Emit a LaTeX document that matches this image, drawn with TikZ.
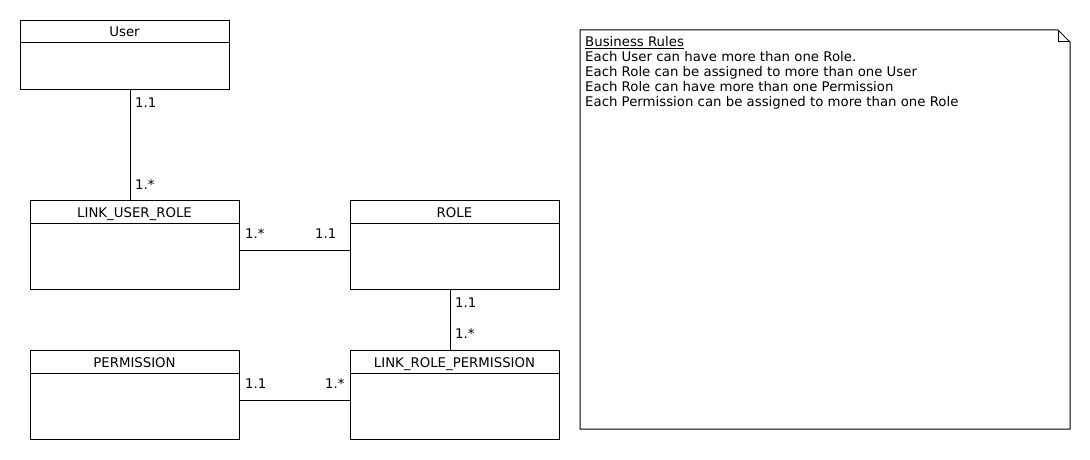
\documentclass[tikz,border=0pt]{standalone}
\usepackage{fontspec}
\setmainfont{DejaVu Sans}
\begin{document}
\begin{tikzpicture}[x=1pt,y=-1pt,
  boxline/.style={draw=black,line width=1pt},
  ttl/.style={font=\fontsize{13.3}{15}\selectfont,inner sep=0pt,anchor=base},
  mult/.style={font=\fontsize{13.3}{15}\selectfont,inner sep=0pt,anchor=base west},
  conn/.style={draw=black,line width=1pt}]
\useasboundingbox (0,0) rectangle (1090,460);
\fill[white] (0,0) rectangle (1090,460);
% classes
\newcommand{\umlclass}[5]{%
  \node[boxline,minimum width=209pt,minimum height=#5pt,inner sep=0pt,anchor=north west] (#1) at (#2,#3) {};
  \draw[line width=1pt] (#2,#3+23) -- (#2+209,#3+23);
  \node[ttl] (#1t) at (#2+104.5,#3+17) {#4};}
\umlclass{user}{20}{20}{User}{69}
\umlclass{lur}{30}{200}{LINK\_USER\_ROLE}{89}
\umlclass{role}{350}{200}{ROLE}{89}
\umlclass{perm}{30}{350}{PERMISSION}{89}
\umlclass{lrp}{350}{350}{LINK\_ROLE\_PERMISSION}{89}
% connectors
\draw[conn] (user.south -| 130,0) -- (lur.north -| 130,0);
\draw[conn] (lur.east |- 0,250) -- (role.west |- 0,250);
\draw[conn] (role.south -| 450,0) -- (lrp.north -| 450,0);
\draw[conn] (perm.east |- 0,400) -- (lrp.west |- 0,400);
% multiplicities
\node[mult] (m1) at (135,107) {1.1};
\node[mult] (m2) at (135,189) {1.*};
\node[mult] (m3) at (245,238) {1.*};
\node[mult] (m4) at (315,238) {1.1};
\node[mult] (m5) at (455,307) {1.1};
\node[mult] (m6) at (455,338) {1.*};
\node[mult] (m7) at (245,388) {1.1};
\node[mult] (m8) at (325,388) {1.*};
% note
\draw[line width=1pt] (580,30) -- (1058,30) -- (1070,42) -- (1070,429) -- (580,429) -- cycle;
\draw[line width=1pt] (1058,30) -- (1058,42) -- (1070,42);
\node[anchor=north west,inner sep=0pt,align=left,font=\fontsize{13.3}{15}\selectfont] (note) at (585,36)
{\underline{Business Rules}\\
Each User can have more than one Role.\\
Each Role can be assigned to more than one User\\
Each Role can have more than one Permission\\
Each Permission can be assigned to more than one Role};
\end{tikzpicture}
\end{document}
